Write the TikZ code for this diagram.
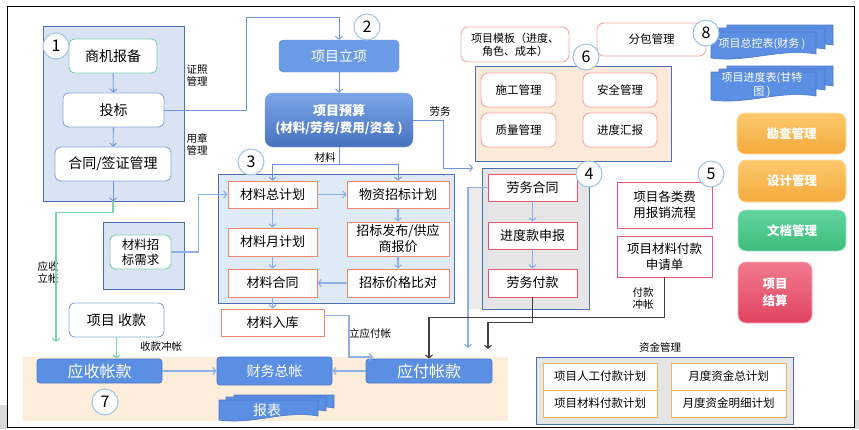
\documentclass[tikz,border=0pt]{standalone}
\usepackage{fontspec}
\setmainfont{Noto Sans CJK SC}
\usepackage{tikz}
\usetikzlibrary{positioning,calc,arrows.meta}

\definecolor{grpline}{HTML}{4A6FB5}
\definecolor{gonefill}{HTML}{DAE3F3}
\definecolor{gthreefill}{HTML}{DEEBF7}
\definecolor{gsixfill}{HTML}{FCE9DA}
\definecolor{gfourfill}{HTML}{E5E5E5}
\definecolor{beige}{HTML}{FDEEDC}
\definecolor{grnline}{HTML}{7ED3AC}
\definecolor{blueline}{HTML}{8AA8DE}
\definecolor{arrblue}{HTML}{6F94D9}
\definecolor{arrlight}{HTML}{8DB0E6}
\definecolor{salmon}{HTML}{F0876A}
\definecolor{rosy}{HTML}{F4A9A0}
\definecolor{pinkred}{HTML}{E8566F}
\definecolor{bfill}{HTML}{5B8FE3}
\definecolor{bdraw}{HTML}{4A78C8}
\definecolor{orangeline}{HTML}{F6B554}
\definecolor{numline}{HTML}{9DC3E6}
\definecolor{dkline}{HTML}{404040}
\definecolor{ortop}{HTML}{FFC96E}
\definecolor{orbot}{HTML}{F2A93B}
\definecolor{gntop}{HTML}{62D59F}
\definecolor{gnbot}{HTML}{3DBB7C}
\definecolor{rdtop}{HTML}{F17A8F}
\definecolor{rdbot}{HTML}{E0435F}

\newcommand\docsheet[4]{%
  \filldraw[fill=bfill,draw=bdraw,line width=0.6pt] (#1,#2) -- (#3,#2) -- (#3,{#4-4})
    .. controls ({0.35*#1+0.65*#3},{#4-10}) and ({0.65*#1+0.35*#3},{#4+5}) .. (#1,#4) -- cycle;}

\tikzset{
  grp/.style={draw=grpline, line width=0.8pt, inner sep=0pt},
  rbox/.style={draw=blueline, fill=white, rounded corners=6pt, line width=0.9pt, align=center,
    inner sep=1pt, font=\fontsize{14}{17}\selectfont},
  mbox/.style={draw=salmon, fill=white, line width=0.9pt, align=center, inner sep=1pt,
    minimum height=27pt, font=\fontsize{13}{16}\selectfont},
  pbox/.style={draw=pinkred, fill=white, line width=0.9pt, align=center, inner sep=1pt,
    font=\fontsize{13}{16}\selectfont},
  sbox/.style={draw=rosy, fill=white, rounded corners=7pt, line width=0.9pt, align=center,
    inner sep=1pt, font=\fontsize{11.5}{14}\selectfont},
  bluebox/.style={fill=bfill, draw=bdraw, line width=0.8pt, rounded corners=3pt, text=white,
    inner sep=1pt, font=\fontsize{16}{18}\selectfont},
  btn/.style={rounded corners=8pt, draw=#1!60!white, line width=0.8pt, text=white, align=center,
    font=\bfseries\fontsize{12.5}{17}\selectfont},
  cell/.style={draw=orangeline, fill=white, line width=0.9pt, minimum width=114pt,
    minimum height=27pt, inner sep=1pt, font=\fontsize{11.5}{14}\selectfont},
  numc/.style={circle, draw=numline, fill=white, line width=1pt, minimum size=26pt,
    inner sep=0pt, font=\fontsize{16}{16}\selectfont},
  lbl/.style={align=center, inner sep=0pt, font=\fontsize{10.5}{12}\selectfont},
  doctext/.style={text=white, align=center, inner sep=0pt, font=\fontsize{11}{14}\selectfont},
  arr/.style={draw=arrblue, line width=0.9pt, -{Straight Barb[length=3pt,width=7pt]}},
  arrl/.style={draw=arrlight, line width=1.2pt, -{Straight Barb[length=3pt,width=7pt]}},
  grn/.style={draw=grnline, line width=1.2pt, -{Straight Barb[length=3pt,width=7pt]}},
  dk/.style={draw=dkline, line width=1.1pt, -{Straight Barb[length=3pt,width=7pt]}}
}

\begin{document}
\begin{tikzpicture}[x=1pt,y=-1pt]
\useasboundingbox (0,0) rectangle (859,429);
\fill[black!15] (0,405) rectangle (7,429);
\fill[black!15] (854,400) rectangle (859,429);
\draw[line width=1pt] (7,6) rectangle (854,427);

% group boxes
\node[grp, fill=gonefill, minimum width=141pt, minimum height=175pt] (g1) at (113.5,113.5) {};
\node[grp, fill=gonefill, minimum width=81pt, minimum height=67pt] (gzb) at (143.5,255.5) {};
\node[grp, fill=gthreefill, minimum width=236pt, minimum height=129pt] (g3) at (336,238.5) {};
\node[grp, fill=gsixfill, minimum width=196pt, minimum height=95pt] (g6) at (573,113.5) {};
\fill[black!8] (468,188) rectangle (482,309);
\node[grp, fill=gfourfill, minimum width=107pt, minimum height=141pt] (g4) at (535.5,238.5) {};
\fill[beige] (23,357) rectangle (508,421);
\node[grp, fill=gfourfill, minimum width=257pt, minimum height=67pt] (gz) at (664.5,390.5) {};

% 1
\node[rbox, draw=grnline, minimum width=88pt, minimum height=34pt] (sj) at (113,56) {商机报备};
\node[rbox, minimum width=101pt, minimum height=34pt] (tb) at (113.5,110) {投标};
\node[rbox, minimum width=116pt, minimum height=34pt] (ht) at (113,164) {合同/签证管理};
\node[lbl] (zz) at (197,76) {证照\\管理};
\node[lbl] (yz) at (197,144) {用章\\管理};
\node[rbox, draw=grnline, minimum width=61pt, minimum height=34pt,
  font=\fontsize{12.5}{15}\selectfont] (zb) at (140.5,252) {材料招\\标需求};

% 2
\node[fill=bfill!90!white, draw=bdraw!80!white, rounded corners=4pt, text=white,
  minimum width=120pt, minimum height=32pt, font=\fontsize{14}{17}\selectfont] (lx) at (339,56) {项目立项};
\node[top color=bfill!80!white, bottom color=bdraw!95!black, draw=bdraw!70!white, rounded corners=8pt,
  text=white, align=center, minimum width=148pt, minimum height=54pt,
  font=\bfseries\fontsize{13}{17}\selectfont] (ys) at (339,120) {项目预算\\{\fontsize{12.5}{15}\selectfont(材料/劳务/费用/资金 )}};
\node[lbl] (clb) at (325,157) {材料};
\node[lbl] (lwb) at (440,111) {劳务};

% 3
\node[mbox, minimum width=89pt] (zjh) at (272.5,194.5) {材料总计划};
\node[mbox, minimum width=102pt] (wz) at (398,194.5) {物资招标计划};
\node[mbox, minimum width=89pt, minimum height=28pt] (yjh) at (272.5,242) {材料月计划};
\node[mbox, minimum width=102pt, minimum height=34pt] (fbj) at (398,239) {招标发布/供应\\商报价};
\node[mbox, minimum width=89pt, minimum height=28pt] (hte) at (272.5,283) {材料合同};
\node[mbox, minimum width=102pt, minimum height=28pt] (bd) at (398,283) {招标价格比对};
\node[mbox, minimum width=103pt] (rk) at (272.5,322.5) {材料入库};
\node[lbl] (lyf) at (370,333) {立应付帐};

% 6
\node[sbox, minimum width=75pt, minimum height=34pt] (sg) at (518.5,90) {施工管理};
\node[sbox, minimum width=74pt, minimum height=34pt] (aq) at (620,90) {安全管理};
\node[sbox, minimum width=75pt, minimum height=34pt] (zl) at (518.5,130) {质量管理};
\node[sbox, minimum width=74pt, minimum height=34pt] (jdh) at (620,130) {进度汇报};
\node[sbox, minimum width=108pt, minimum height=35pt, font=\fontsize{11}{13}\selectfont] (mb) at (515,44.5) {项目模板（进度、\\角色、成本）};
\node[sbox, minimum width=109pt, minimum height=33pt] (fb) at (651.5,39.5) {分包管理};

% 8
\docsheet{727}{25}{833}{49}
\docsheet{719}{28}{825}{53}
\docsheet{711}{32}{816}{58}
\node[doctext] (zk) at (762,44) {项目总控表(财务 )};
\docsheet{727}{66}{833}{90}
\docsheet{719}{69}{825}{94}
\docsheet{711}{72}{816}{100}
\node[doctext] (jdb) at (762,85) {项目进度表(甘特\\图 )};

% right buttons
\node[btn=ortop, top color=ortop, bottom color=orbot,
  minimum width=109pt, minimum height=41pt] (kc) at (791.5,133.5) {勘查管理};
\node[btn=ortop, top color=ortop, bottom color=orbot,
  minimum width=108pt, minimum height=42pt] (sjg) at (792,181) {设计管理};
\node[btn=gntop, top color=gntop, bottom color=gnbot,
  minimum width=108pt, minimum height=41pt] (wd) at (792,230.5) {文档管理};
\node[btn=rdtop, top color=rdtop, bottom color=rdbot,
  minimum width=74pt, minimum height=61pt] (js) at (775,292.5) {项目\\结算};

% 4
\node[pbox, minimum width=89pt, minimum height=27pt] (lw) at (532.5,187.5) {劳务合同};
\node[pbox, minimum width=89pt, minimum height=27pt] (jdk) at (532.5,235.5) {进度款申报};
\node[pbox, minimum width=89pt, minimum height=28pt] (lf) at (532.5,283) {劳务付款};

% 5
\node[pbox, minimum width=95pt, minimum height=46pt, font=\fontsize{12.5}{16}\selectfont] (bx) at (664.5,205) {项目各类费\\用报销流程};
\node[pbox, minimum width=95pt, minimum height=41pt, font=\fontsize{12.5}{16}\selectfont] (sq) at (664.5,256.5) {项目材料付款\\申请单};
\node[lbl] (fkc) at (643,299) {付款\\冲帐};

% 7
\node[rbox, minimum width=95pt, minimum height=34pt] (sk) at (116.5,320) {项目 收款};
\node[bluebox, minimum width=125pt, minimum height=24pt] (ysk) at (99.5,371) {应收帐款};
\node[bluebox, minimum width=115pt, minimum height=28pt, font=\fontsize{14}{17}\selectfont] (cz) at (274.5,371) {财务总帐};
\node[bluebox, minimum width=126pt, minimum height=24pt] (yf) at (429,371) {应付帐款};
\docsheet{234}{395}{334}{412}
\docsheet{226}{397}{326}{415}
\docsheet{219}{400}{318}{420}
\node[doctext, font=\fontsize{14}{16}\selectfont] (bb) at (267,410) {报表};
\node[lbl] (ysl) at (48,272) {应收\\立帐};
\node[lbl] (skc) at (161,347) {收款冲帐};

% funds
\node[lbl] (zjg) at (660,347) {资金管理};
\node[cell] (rg) at (600,376.5) {项目人工付款计划};
\node[cell] (clf) at (600,403.5) {项目材料付款计划};
\node[cell, minimum width=115pt] (yzj) at (728.5,376.5) {月度资金总计划};
\node[cell, minimum width=115pt] (ymx) at (728.5,403.5) {月度资金明细计划};

% free ends
\coordinate (tbup) at (246,17);
\coordinate (lwin) at (473,168);
\coordinate (ysin) at (56,342);
\coordinate (yfin) at (373,357);
\coordinate (lwout) at (468,348);
\coordinate (lfout) at (488,349);

% connectors
\draw[arr] (sj) -- (tb);
\draw[arr] (tb) -- (ht);
\draw[arr] (ht.south) -- (ht.south |- g1.south);
\draw[grn] (ht.south |- g1.south) -- ++(0,11) -| (ysin);
\draw[arr] (tb.east) -| (tbup) -| (lx.north);
\draw[arr] (lx) -- (ys);
\draw[arr] (ys.south) -- ++(0,17) -| (zjh.north);
\draw[arr] (ys.south) -- ++(0,17) -| (wz.north);
\draw[arr] (ys.east) -| ([xshift=-30pt]lwin) -- (lwin);
\draw[arrl] (zb.east) -| ([xshift=-29pt]zjh.west) -- (zjh.west);
\draw[arrl] (zjh) -- (wz);
\draw[arrl] (zjh) -- (yjh);
\draw[arrl] (yjh) -- (hte);
\draw[arrl] (wz) -- (fbj);
\draw[arrl] (fbj) -- (bd);
\draw[arrl] (bd) -- (hte);
\draw[arrl] (hte) -- (rk);
\draw[arrl] ([yshift=7pt]rk.east) -| ([xshift=-24pt]yfin) -- (yfin);
\draw[arrl] (lw) -- (jdk);
\draw[arrl] (jdk) -- (lf);
\draw[arrl] (lw.west) -| (lwout);
\draw[dk] (lf.south) -- ++(0,25) -| (lfout);
\draw[dk] (sq.south) -- ++(0,40) -| (yf.north);
\draw[grn] (sk.south) -- (sk.south |- ysk.north);
\draw[arrl] (ysk) -- (cz);
\draw[arrl] (yf) -- (cz);

% numbers
\node[numc] (n1) at (56,46) {1};
\node[numc] (n2) at (367,27) {2};
\node[numc] (n3) at (251,162) {3};
\node[numc] (n4) at (589,174) {4};
\node[numc] (n5) at (711,174) {5};
\node[numc] (n6) at (586,57) {6};
\node[numc] (n7) at (105,402) {7};
\node[numc] (n8) at (706,33) {8};
\end{tikzpicture}
\end{document}
